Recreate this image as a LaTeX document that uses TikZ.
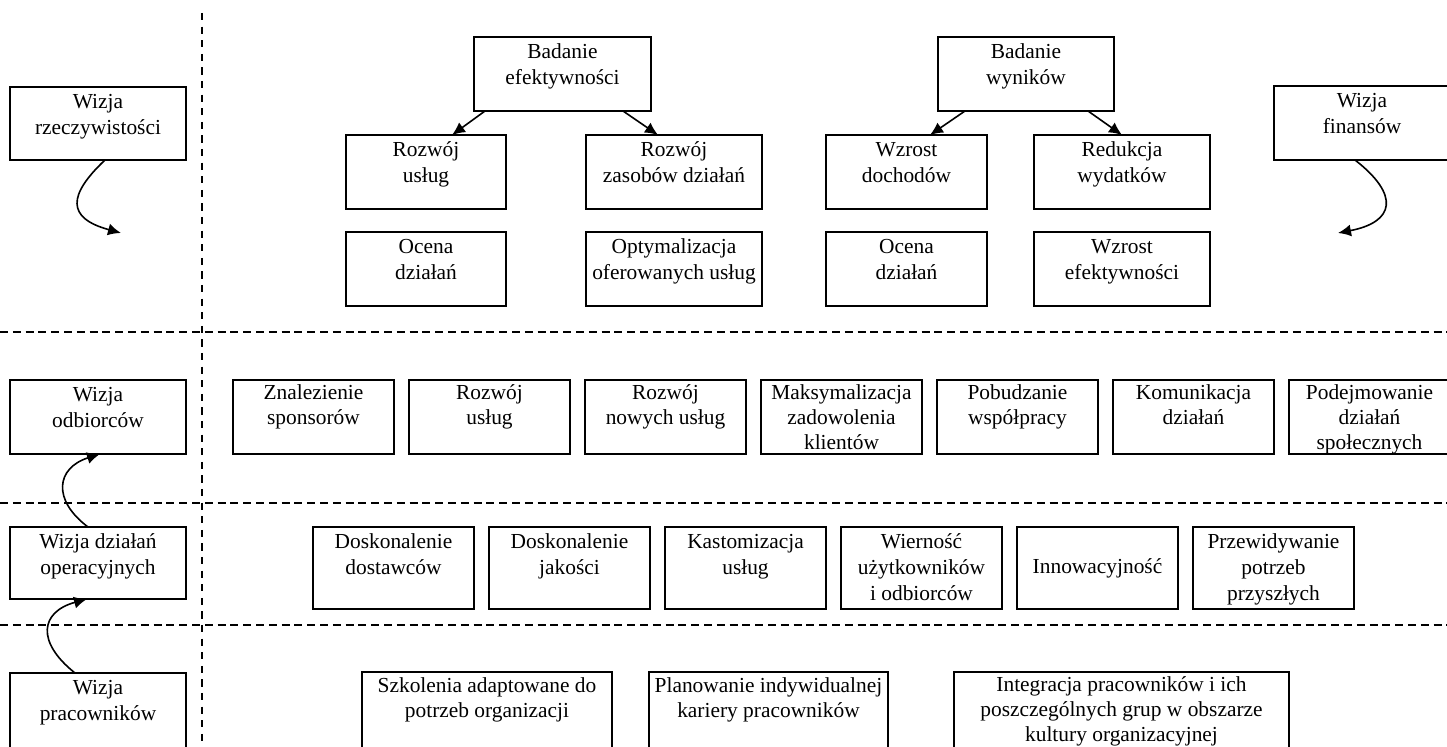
\documentclass[tikz,border=0pt]{standalone}
\usepackage{fontspec}
\setmainfont{Liberation Serif}
\usetikzlibrary{arrows.meta}

% one drawing unit = 0.5pt
\newdimen\pxu \pxu=0.5pt
% box text: [first baseline], width, height (in units), lines starting at the top
\newcommand{\cellt}[4][11pt]{\parbox[c][#3\pxu][t]{#2\pxu}{\centering\rule{0pt}{#1}#4}}
% box text centred vertically
\newcommand{\cellc}[3]{\parbox[c][#2\pxu][c]{#1\pxu}{\centering #3}}

\tikzset{
  box/.style={draw, line width=1pt, inner sep=0pt, outer sep=0pt, anchor=north west,
    font=\fontsize{10.7pt}{13pt}\selectfont},
  tight/.style={font=\fontsize{10.7pt}{12.5pt}\selectfont},
  arr/.style={line width=0.8pt, -{Latex[length=6.5pt,width=6pt]}},
  hdash/.style={line width=1pt, dash pattern=on 4pt off 2.4pt},
  vdash/.style={line width=1.2pt, dash pattern=on 3.6pt off 3.2pt},
}

\begin{document}
\begin{tikzpicture}[x=0.5pt, y=-0.5pt]
\fill[white] (0,0) rectangle (1447,747);
\useasboundingbox (0,0) rectangle (1447,747);
\clip (0,0) rectangle (1447,747);

% separators
\draw[vdash] (202,13) -- (202,747);
\draw[hdash] (0,332) -- (1447,332);
\draw[hdash] (0,503) -- (1447,503);
\draw[hdash] (0,625) -- (1447,625);

% perspectives
\node[box] (wr) at (10,87)   {\cellt{176}{73}{Wizja\\rzeczywistości}};
\node[box] (wf) at (1274,86) {\cellt{176}{74}{Wizja\\finansów}};
\node[box] (wo) at (10,380)  {\cellt{176}{74}{Wizja\\odbiorców}};
\node[box] (wd) at (10,527)  {\cellt{176}{72}{Wizja działań\\operacyjnych}};
\node[box] (wp) at (10,673)  {\cellt{176}{78}{Wizja\\pracowników}};

% top section
\node[box] (be)  at (474,37)   {\cellt{177}{74}{Badanie\\efektywności}};
\node[box] (bw)  at (938,37)   {\cellt{176}{74}{Badanie\\wyników}};
\node[box] (r1a) at (346,135)  {\cellt{160}{74}{Rozwój\\usług}};
\node[box] (r1b) at (586,135)  {\cellt{176}{74}{Rozwój\\zasobów działań}};
\node[box] (r1c) at (826,135)  {\cellt{161}{74}{Wzrost\\dochodów}};
\node[box] (r1d) at (1034,135) {\cellt{176}{74}{Redukcja\\wydatków}};
\node[box] (r2a) at (346,232)  {\cellt{160}{74}{Ocena\\działań}};
\node[box] (r2b) at (586,232)  {\cellt{176}{74}{Optymalizacja\\oferowanych usług}};
\node[box] (r2c) at (826,232)  {\cellt{161}{74}{Ocena\\działań}};
\node[box] (r2d) at (1034,232) {\cellt{176}{74}{Wzrost\\efektywności}};

% customers row
\node[box, tight] (c1) at (233,380)  {\cellt[10pt]{161}{74}{Znalezienie\\sponsorów}};
\node[box, tight] (c2) at (409,380)  {\cellt[10pt]{161}{74}{Rozwój\\usług}};
\node[box, tight] (c3) at (585,380)  {\cellt[10pt]{161}{74}{Rozwój\\nowych usług}};
\node[box, tight] (c4) at (761,380)  {\cellt[10pt]{161}{74}{Maksymalizacja\\zadowolenia\\klientów}};
\node[box, tight] (c5) at (937,380)  {\cellt[10pt]{161}{74}{Pobudzanie\\współpracy}};
\node[box, tight] (c6) at (1113,380) {\cellt[10pt]{161}{74}{Komunikacja\\działań}};
\node[box, tight] (c7) at (1289,380) {\cellt[10pt]{161}{74}{Podejmowanie\\działań\\społecznych}};

% operations row
\node[box] (o1) at (313,527)  {\cellt{161}{82}{Doskonalenie\\dostawców}};
\node[box] (o2) at (489,527)  {\cellt{161}{82}{Doskonalenie\\jakości}};
\node[box] (o3) at (665,527)  {\cellt{161}{82}{Kastomizacja\\usług}};
\node[box] (o4) at (841,527)  {\cellt{161}{82}{Wierność\\użytkowników\\i odbiorców}};
\node[box] (o5) at (1017,527) {\cellc{161}{82}{Innowacyjność}};
\node[box] (o6) at (1193,527) {\cellt{161}{82}{Przewidywanie\\potrzeb\\przyszłych}};

% employees row
\node[box, tight] (s1) at (362,672) {\cellt[10.5pt]{250}{80}{Szkolenia adaptowane do\\potrzeb organizacji}};
\node[box, tight] (s2) at (649,672) {\cellt[10.5pt]{239}{80}{Planowanie indywidualnej\\kariery pracowników}};
\node[box, tight] (s3) at (954,672) {\cellt[10pt]{335}{80}{Integracja pracowników i ich\\poszczególnych grup w obszarze\\kultury organizacyjnej}};

% arrows in the top section
\draw[arr] ([xshift=5.5pt]be.south west) -- ([xshift=13pt]r1a.north);
\draw[arr] ([xshift=-14pt]be.south east) -- ([xshift=-8pt]r1b.north);
\draw[arr] ([xshift=13.5pt]bw.south west) -- ([xshift=11.75pt]r1c.north);
\draw[arr] ([xshift=-13pt]bw.south east) -- (r1d.north);

% curved arrows
\coordinate (wrt) at (121,233);
\coordinate (wft) at (1338,233);
\draw[arr] ([xshift=3.5pt]wr.south) .. controls (68,195) and (66,218) .. (wrt);
\draw[arr] ([xshift=-3.5pt]wf.south) .. controls (1400,195) and (1395,222) .. (wft);
\draw[arr] ([xshift=-5pt]wd.north) .. controls (52,500) and (56,468) .. ([xshift=1pt]wo.south);
\draw[arr] ([xshift=-11.5pt]wp.north) .. controls (36,642) and (40,612) .. ([xshift=-5.5pt]wd.south);
\end{tikzpicture}
\end{document}
